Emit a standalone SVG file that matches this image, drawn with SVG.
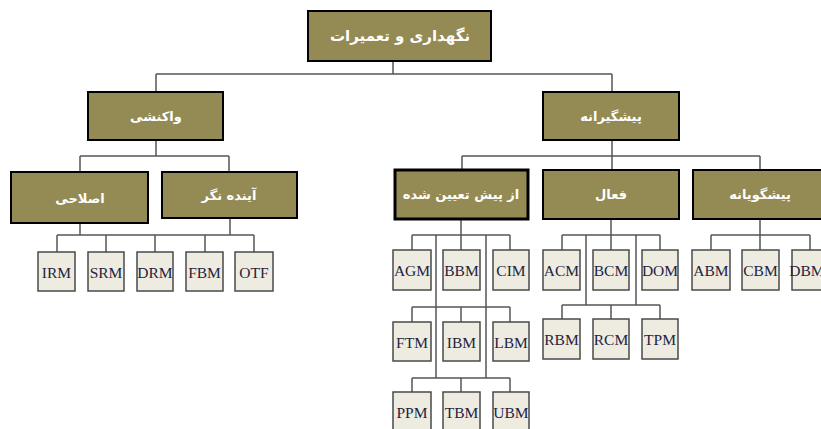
<svg xmlns="http://www.w3.org/2000/svg" width="821" height="429" viewBox="0 0 821 429">
<style>
.box{fill:#948a54;stroke:#000;stroke-width:2}
.thick{stroke-width:3}
.lbl{font-family:"DejaVu Sans",sans-serif;font-size:13px;font-weight:bold;fill:#fff;text-anchor:middle;dominant-baseline:central}
.root{font-size:15px}
.leaf rect{fill:#eeece1;stroke:#4a4a4a;stroke-width:1.5}
.leaf text{font-family:"Liberation Serif",serif;font-size:15.5px;fill:#23233f;text-anchor:middle;dominant-baseline:central}
.con path{fill:none;stroke:#555;stroke-width:1.5}
</style>
<rect width="821" height="429" fill="#fff"/>
<g id="connectors" class="con">
<path d="M393 61V74M156 74H612M156 74V92M612 74V92"/>
<path d="M156 140V156M80 156H229M80 156V172M229 156V172"/>
<path d="M80 223V235M230 218V235M57 235H254M57 235V252M106 235V252M155 235V252M205 235V252M254 235V252"/>
<path d="M612 140V169M462 156H760M462 156V169M760 156V169"/>
<path d="M461 220V235M412 235H510M412 235V250M461 235V250M510 235V250M436 235V378M486 235V378M412 307H510M412 307V322M461 307V322M510 307V322M412 378H510M412 378V392M461 378V392M510 378V392"/>
<path d="M611 220V235M562 235H660M562 235V250M611 235V250M660 235V250M586 235V305M636 235V305M562 305H660M562 305V319M611 305V319M660 305V319"/>
<path d="M760 220V235M711 235H810M711 235V250M760 235V250M810 235V250"/>
</g>
<g id="root"><rect class="box" x="308" y="11" width="183" height="50"/><text class="lbl root" x="400" y="36">نگهداری و تعمیرات</text></g>
<g id="reactive"><rect class="box" x="88" y="92" width="135" height="48"/><text class="lbl" x="156" y="116">واکنشی</text></g>
<g id="preventive"><rect class="box" x="543" y="92" width="136" height="48"/><text class="lbl" x="611" y="116">پیشگیرانه</text></g>
<g id="corrective"><rect class="box" x="11" y="172" width="137" height="51"/><text class="lbl" x="80" y="198">اصلاحی</text></g>
<g id="proactive"><rect class="box" x="162" y="172" width="135" height="46"/><text class="lbl" x="229" y="195">آینده نگر</text></g>
<g id="predetermined"><rect class="box thick" x="395" y="170" width="133" height="49"/><text class="lbl" x="461" y="194">از پیش تعیین شده</text></g>
<g id="active"><rect class="box" x="543" y="170" width="136" height="49"/><text class="lbl" x="611" y="194">فعال</text></g>
<g id="predictive"><rect class="box" x="693" y="170" width="136" height="49"/><text class="lbl" x="760" y="194">پیشگویانه</text></g>
<g id="IRM" class="leaf"><rect x="38" y="252" width="37" height="39"/><text x="56.5" y="272">IRM</text></g>
<g id="SRM" class="leaf"><rect x="88" y="252" width="36" height="39"/><text x="106" y="272">SRM</text></g>
<g id="DRM" class="leaf"><rect x="137" y="252" width="36" height="39"/><text x="155" y="272">DRM</text></g>
<g id="FBM" class="leaf"><rect x="186" y="252" width="37" height="39"/><text x="204.5" y="272">FBM</text></g>
<g id="OTF" class="leaf"><rect x="235" y="252" width="38" height="39"/><text x="254" y="272">OTF</text></g>
<g id="AGM" class="leaf"><rect x="393" y="250" width="38" height="40"/><text x="412" y="270">AGM</text></g>
<g id="BBM" class="leaf"><rect x="443" y="250" width="37" height="40"/><text x="461.5" y="270">BBM</text></g>
<g id="CIM" class="leaf"><rect x="493" y="250" width="36" height="40"/><text x="511" y="270">CIM</text></g>
<g id="FTM" class="leaf"><rect x="393" y="322" width="38" height="39"/><text x="412" y="342">FTM</text></g>
<g id="IBM" class="leaf"><rect x="443" y="322" width="37" height="39"/><text x="461.5" y="342">IBM</text></g>
<g id="LBM" class="leaf"><rect x="493" y="322" width="36" height="39"/><text x="511" y="342">LBM</text></g>
<g id="PPM" class="leaf"><rect x="393" y="392" width="38" height="40"/><text x="412" y="412">PPM</text></g>
<g id="TBM" class="leaf"><rect x="443" y="392" width="37" height="40"/><text x="461.5" y="412">TBM</text></g>
<g id="UBM" class="leaf"><rect x="493" y="392" width="36" height="40"/><text x="511" y="412">UBM</text></g>
<g id="ACM" class="leaf"><rect x="543" y="250" width="37" height="40"/><text x="561.5" y="270">ACM</text></g>
<g id="BCM" class="leaf"><rect x="593" y="250" width="36" height="40"/><text x="611" y="270">BCM</text></g>
<g id="DOM" class="leaf"><rect x="642" y="250" width="36" height="40"/><text x="660" y="270">DOM</text></g>
<g id="RBM" class="leaf"><rect x="543" y="319" width="37" height="40"/><text x="561.5" y="339">RBM</text></g>
<g id="RCM" class="leaf"><rect x="593" y="319" width="36" height="40"/><text x="611" y="339">RCM</text></g>
<g id="TPM" class="leaf"><rect x="642" y="319" width="36" height="40"/><text x="660" y="339">TPM</text></g>
<g id="ABM" class="leaf"><rect x="692" y="250" width="38" height="40"/><text x="711" y="270">ABM</text></g>
<g id="CBM" class="leaf"><rect x="742" y="250" width="37" height="40"/><text x="760.5" y="270">CBM</text></g>
<g id="DBM" class="leaf"><rect x="792" y="250" width="37" height="40"/><text x="807" y="270">DBM</text></g>
</svg>
